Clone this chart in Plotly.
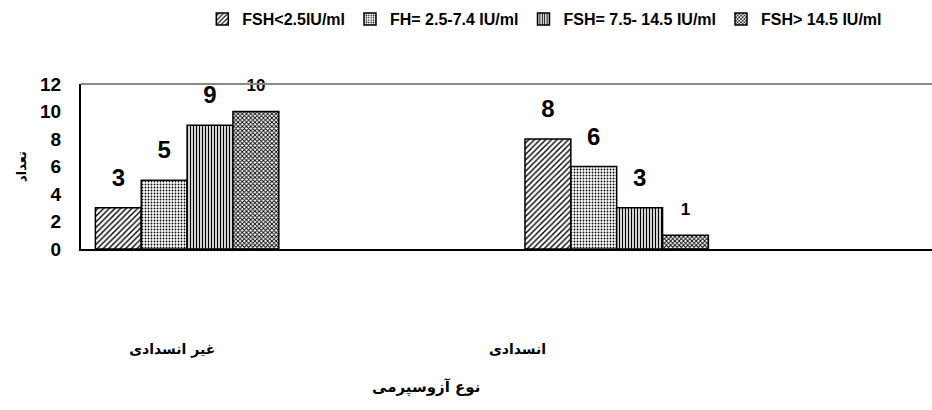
import plotly.graph_objects as go

categories = ["غیر انسدادی", "انسدادی"]
series_names = ["FSH<2.5IU/ml", "FH= 2.5-7.4 IU/ml", "FSH= 7.5- 14.5 IU/ml", "FSH> 14.5 IU/ml"]
series_values = [
    [3, 8],
    [5, 6],
    [9, 3],
    [10, 1],
]
label_sizes = [
    [24, 24],
    [24, 24],
    [24, 24],
    [17, 17],
]
y_ticks = [0, 2, 4, 6, 8, 10, 12]
y_title = "تعداد"
x_title = "نوع آزوسپرمی"

patterns = [
    dict(shape="/", size=4, solidity=0.35),
    dict(shape=".", size=3, solidity=0.3),
    dict(shape="|", size=3, solidity=0.45),
    dict(shape="x", size=3, solidity=0.5),
]

fig = go.Figure()
xs = list(range(len(categories)))
for i, name in enumerate(series_names):
    fig.add_trace(go.Bar(
        x=xs, y=series_values[i], name=name, offsetgroup=str(i),
        marker=dict(color="white", line=dict(color="black", width=1.5),
                    pattern=dict(fgcolor="black", bgcolor="white", fillmode="replace", **patterns[i])),
        hoverinfo="skip",
    ))
for i, name in enumerate(series_names):
    fig.add_trace(go.Scatter(
        x=xs, y=series_values[i], mode="markers+text", offsetgroup=str(i),
        text=[str(v) for v in series_values[i]], textposition="top center",
        textfont=dict(size=label_sizes[i], color="black", family="Liberation Sans", weight="bold"),
        marker=dict(size=24, color="rgba(0,0,0,0)"), cliponaxis=False,
        showlegend=False, hoverinfo="skip",
    ))

# invisible carrier so the category-label axis is drawn
fig.add_trace(go.Scatter(x=xs, y=[0] * len(xs), xaxis="x2", mode="markers",
                         marker=dict(size=1, color="rgba(0,0,0,0)"),
                         showlegend=False, hoverinfo="skip"))

fig.update_layout(
    xaxis2=dict(overlaying="x", anchor="y", side="bottom", range=[-0.264, 2.2],
                tickmode="array", tickvals=xs, ticktext=categories,
                showline=False, showgrid=False, zeroline=False, ticks="",
                ticklabelstandoff=90, automargin=False,
                tickfont=dict(size=14, color="black", family="DejaVu Sans", weight="bold")),
)

fig.update_layout(
    width=932, height=410,
    margin=dict(l=81, r=0, t=84, b=161, autoexpand=False),
    paper_bgcolor="white", plot_bgcolor="white",
    barmode="group", bargap=0.573, bargroupgap=0,
    scattermode="group",
    showlegend=True,
    legend=dict(orientation="h", x=0.545, xanchor="center", y=0.995, yref="container", yanchor="top",
                font=dict(size=16, color="black", family="Liberation Sans", weight="bold"),
                itemwidth=30, tracegroupgap=0),
    xaxis=dict(range=[-0.247, 1.734], showticklabels=False, showline=True, linecolor="black",
               linewidth=2, ticks="", showgrid=False, zeroline=False, automargin=False),
    yaxis=dict(range=[0, 12], tickvals=y_ticks, showline=True, linecolor="black", linewidth=2,
               ticks="", showgrid=False, zeroline=False, ticklabelstandoff=14, automargin=False,
               tickfont=dict(size=19, color="black", family="Liberation Sans", weight="bold"),
               title=dict(text=y_title, standoff=11,
                          font=dict(size=13, color="black", family="DejaVu Sans", weight="bold"))),
    shapes=[dict(type="line", xref="paper", yref="y domain", x0=0, x1=1, y0=1, y1=1,
                 line=dict(color="#888888", width=2))],
    annotations=[dict(text=x_title, xref="paper", yref="paper", x=0.405, y=-0.842, xanchor="center",
                      yanchor="middle", showarrow=False,
                      font=dict(size=15, color="black", family="DejaVu Sans", weight="bold"))],
)

fig.write_html(
    "out.html", config={"displayModeBar": False},
    post_script=("document.documentElement.style.margin='0';document.documentElement.style.overflow='hidden';"
                 "document.body.style.margin='0';document.body.style.overflow='hidden';"),
)
